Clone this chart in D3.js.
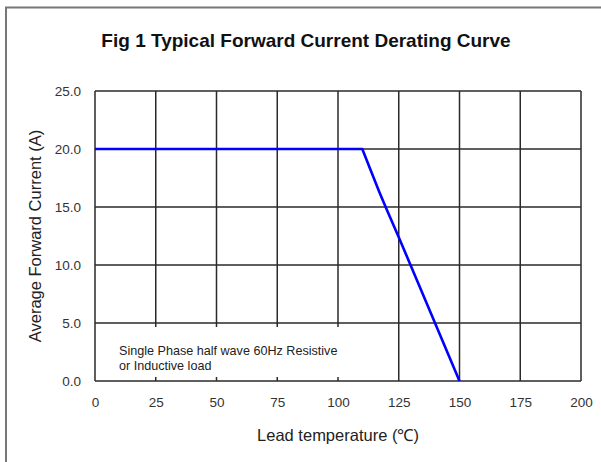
<!DOCTYPE html>
<html>
<head>
<meta charset="utf-8">
<script src="https://cdn.jsdelivr.net/npm/d3@7"></script>
<style>
  body { margin: 0; background: #fff; }
  text { font-family: "Liberation Sans", Arial, sans-serif; }
</style>
</head>
<body>
<div id="chart"></div>
<script>
var w = 601;
var h = 462;

// data
var xTicks = [0, 25, 50, 75, 100, 125, 150, 175, 200];
var yTicks = [0, 5, 10, 15, 20, 25];
var temps = [0, 55, 110, 113, 117, 120, 125, 150];
var amps  = [20, 20, 20, 18.4, 16.3, 14.8, 12.4, 0];
var noteLines = ["Single Phase half wave 60Hz Resistive", "or Inductive load"];

var svg = d3.select("#chart")
  .append("svg")
  .attr("width", w)
  .attr("height", h);

// plot box (window.top is reserved, so use padTop etc.)
var padLeft = 95, padRight = 581, padTop = 91, padBottom = 381;

var x = d3.scaleLinear().domain([0, 200]).range([padLeft, padRight]);
var y = d3.scaleLinear().domain([0, 25]).range([padBottom, padTop]);

// outer frame (only top and left visible)
svg.append("path")
  .attr("d", "M6," + h + " V7.5 H" + w)
  .attr("fill", "none")
  .attr("stroke", "#777")
  .attr("stroke-width", 2);

svg.append("text")
  .text("Fig 1 Typical Forward Current Derating Curve")
  .attr("x", 306)
  .attr("y", 47)
  .attr("text-anchor", "middle")
  .attr("font-size", 19)
  .attr("font-weight", "bold")
  .attr("fill", "#111");

// grid
var grid = svg.append("g").attr("stroke", "#2a2a2a").attr("stroke-width", 1.5);
grid.selectAll(".vx")
  .data(xTicks)
  .enter()
  .append("line")
  .attr("x1", function(d) { return x(d); })
  .attr("x2", function(d) { return x(d); })
  .attr("y1", padTop)
  .attr("y2", padBottom);
grid.selectAll(".hy")
  .data(yTicks)
  .enter()
  .append("line")
  .attr("x1", padLeft)
  .attr("x2", padRight)
  .attr("y1", function(d) { return y(d); })
  .attr("y2", function(d) { return y(d); });

// white note box hides the grid behind the text, keep small ticks
svg.append("rect")
  .attr("x", padLeft + 1)
  .attr("y", y(5) + 4)
  .attr("width", x(115) - padLeft)
  .attr("height", y(0) - y(5) - 8)
  .attr("fill", "#fff");

var note = svg.append("text")
  .attr("x", 119)
  .attr("y", 355)
  .attr("font-size", 12.6)
  .attr("fill", "#222");
note.selectAll("tspan")
  .data(noteLines)
  .enter()
  .append("tspan")
  .attr("x", 119)
  .attr("dy", function(d, i) { return i ? 15 : 0; })
  .text(function(d) { return d; });

// axes labels via d3 axes, lines hidden
var xAxis = svg.append("g")
  .attr("transform", "translate(0," + padBottom + ")")
  .call(d3.axisBottom(x).tickValues(xTicks).tickSize(0).tickPadding(16));
xAxis.select(".domain").remove();
xAxis.selectAll("text")
  .attr("font-size", 13.5)
  .attr("fill", "#333")
  .style("font-family", "Liberation Sans, Arial, sans-serif");

var yAxis = svg.append("g")
  .attr("transform", "translate(" + padLeft + ",0)")
  .call(d3.axisLeft(y).tickValues(yTicks).tickSize(0).tickPadding(14)
    .tickFormat(d3.format(".1f")));
yAxis.select(".domain").remove();
yAxis.selectAll("text")
  .attr("font-size", 13.5)
  .attr("fill", "#333")
  .style("font-family", "Liberation Sans, Arial, sans-serif");

svg.append("text")
  .text("Lead temperature (\u2103)")
  .attr("x", 338)
  .attr("y", 441)
  .attr("text-anchor", "middle")
  .attr("font-size", 16.5)
  .attr("fill", "#222");

svg.append("text")
  .text("Average Forward Current (A)")
  .attr("transform", "translate(41," + ((padTop + padBottom) / 2) + ") rotate(-90)")
  .attr("text-anchor", "middle")
  .attr("font-size", 16.5)
  .attr("fill", "#222");

// derating curve
var pts = temps.map(function(t, i) { return [t, amps[i]]; });
var line = d3.line()
  .x(function(d) { return x(d[0]); })
  .y(function(d) { return y(d[1]); });

svg.append("path")
  .datum(pts)
  .attr("d", line)
  .attr("fill", "none")
  .attr("stroke", "#0000ff")
  .attr("stroke-width", 2.6)
  .attr("stroke-linejoin", "round");
</script>
</body>
</html>
